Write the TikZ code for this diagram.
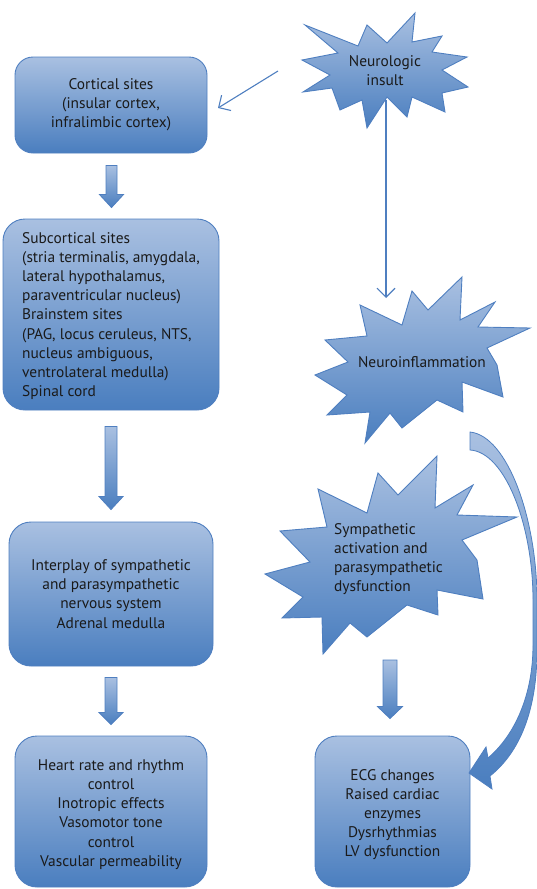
\documentclass[tikz,border=0pt]{standalone}
\usepackage{fontspec}
\setmainfont{PT Sans}
\usetikzlibrary{arrows.meta,calc}

\definecolor{fillTop}{HTML}{A9C0E1}
\definecolor{fillBot}{HTML}{4A7EBF}
\definecolor{edgeBlue}{HTML}{4F7FC0}
\definecolor{ink}{HTML}{1A1A1A}

\tikzset{
  txt/.style={text=ink, font=\fontsize{15.4}{19.2}\selectfont, inner sep=0pt},
  flowbox/.style={draw=edgeBlue, line width=0.9pt, rounded corners=22pt,
    top color=fillTop, bottom color=fillBot, txt, align=center},
  burst/.style={draw=edgeBlue, line width=0.9pt, top color=fillTop,
    bottom color=fillBot, line join=miter},
  thinarrow/.style={draw=edgeBlue, line width=1.1pt,
    -{Straight Barb[length=9pt,width=18pt,line width=1.1pt]}},
  blockarrow/.style={draw=edgeBlue, line width=0.8pt, top color=fillTop,
    bottom color=fillBot},
}

% down-pointing block arrow: start, tip, half shaft, half head, head length
\newcommand\blockdown[5]{%
  \path[blockarrow] let \p1=#1, \p2=#2 in
    (\x1-#3pt,\y1) -- (\x1+#3pt,\y1) -- (\x1+#3pt,\y2+#5pt) -- (\x1+#4pt,\y2+#5pt)
    -- (\x1,\y2) -- (\x1-#4pt,\y2+#5pt) -- (\x1-#3pt,\y2+#5pt) -- cycle;}

\begin{document}
\begin{tikzpicture}[x={(1pt,0pt)}, y={(0pt,-1pt)}]
\useasboundingbox (0,0) rectangle (537,889);

% left column of boxes
\node[flowbox, rounded corners=18pt, minimum width=192pt, minimum height=96pt] (cort) at (111,105)
  {Cortical sites\\(insular cortex,\\infralimbic cortex)};
\node[flowbox, minimum width=216pt, minimum height=191pt] (sub) at (111,314.5) {};
\node[txt, anchor=west, align=left] (subtext) at (22,316)
  {Subcortical sites\\(stria terminalis, amygdala,\\lateral hypothalamus,\\paraventricular nucleus)\\Brainstem sites\\(PAG, locus ceruleus, NTS,\\nucleus ambiguous,\\ventrolateral medulla)\\Spinal cord};
\node[flowbox, minimum width=204pt, minimum height=144pt] (inter) at (111,594)
  {Interplay of sympathetic\\and parasympathetic\\nervous system\\Adrenal medulla};
\node[flowbox, minimum width=192pt, minimum height=151pt] (heart) at (111,811.5) {};
\node[txt, align=center] (hearttext) at (111,814.5)
  {Heart rate and rhythm\\control\\Inotropic effects\\Vasomotor tone\\control\\Vascular permeability};

% right column
\node[flowbox, minimum width=155pt, minimum height=151pt] (ecg) at (392.5,811.5) {};
\node[txt, align=center] (ecgtext) at (392.5,814.5)
  {ECG changes\\Raised cardiac\\enzymes\\Dysrhythmias\\LV dysfunction};

% explosion shapes
\draw[burst] (305,25) -- (358,46) -- (367,25) -- (387,43) -- (415,13) -- (412,42)
  -- (442,36) -- (432,52) -- (467,57) -- (442,70) -- (468,87) -- (442,93)
  -- (445,112) -- (412,97) -- (407,117) -- (387,97) -- (367,128) -- (362,100)
  -- (340,110) -- (332,88) -- (303,92) -- (330,75) -- (302,60) -- (338,53) -- cycle;
\node[txt, align=center] (insult) at (385,71) {Neurologic\\insult};

\draw[burst] (325,340) -- (367,336) -- (360,305) -- (402,325) -- (412,291) -- (428,310)
  -- (462,277) -- (460,320) -- (495,302) -- (478,327) -- (530,328) -- (487,348)
  -- (497,365) -- (503,397) -- (462,382) -- (463,412) -- (437,400) -- (402,428)
  -- (390,413) -- (365,443) -- (370,412) -- (327,415) -- (347,395) -- (315,375)
  -- (348,362) -- cycle;
\node[txt] (inflam) at (422,362) {Neuroinflammation};

\draw[burst] (280,531) -- (327,527) -- (318,489) -- (367,513) -- (378,473) -- (398,495)
  -- (437,456) -- (435,508) -- (473,485) -- (457,515) -- (517,517) -- (462,540)
  -- (477,560) -- (483,599) -- (437,590) -- (438,615) -- (407,605) -- (367,637)
  -- (350,623) -- (323,654) -- (322,617) -- (282,618) -- (303,597) -- (265,574)
  -- (310,562) -- cycle;
\node[txt, align=left, anchor=west] (symp) at (334,559)
  {Sympathetic\\activation and\\parasympathetic\\dysfunction};

% thin connectors from the insult
\coordinate (insultW) at (278,71);
\coordinate (cortE) at (218,108);
\coordinate (insultS) at (386,100);
\coordinate (inflamN) at (386,298);
\draw[thinarrow] (insultW) -- (cortE);
\draw[thinarrow] (insultS) -- (inflamN);

% block arrows
\blockdown{($(cort.south)+(0.5,12)$)}{($(sub.north)+(0.5,-11)$)}{5.5}{12}{13}
\blockdown{($(sub.south)+(0,16)$)}{($(inter.north)+(0,-12)$)}{6}{12}{13}
\blockdown{($(inter.south)+(0,11)$)}{($(heart.north)+(0,-11)$)}{6}{12}{12}
\coordinate (sympS) at (390,660);
\blockdown{(sympS)}{($(ecg.north)+(-2.5,-17)$)}{7}{12.5}{12}

% curved arrow from neuroinflammation down to the ECG box
\path[blockarrow] (470,432) .. controls (508,436) and (537,520) .. (537,600)
  -- (537,650) .. controls (537,710) and (520,752) .. (490,776)
  -- (492,789) -- (469,773) -- (486,747) -- (488,758)
  .. controls (515,735) and (533,695) .. (533,645)
  -- (533,600) .. controls (533,525) and (505,452) .. (470,450) -- cycle;
\end{tikzpicture}
\end{document}
